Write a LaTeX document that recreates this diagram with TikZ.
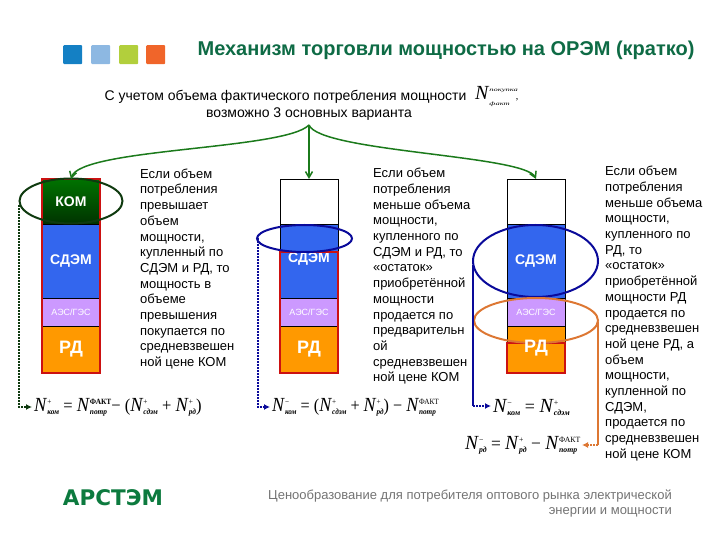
\documentclass[tikz,border=0pt]{standalone}
\usepackage{fontspec}
\setmainfont{Liberation Sans}
\newfontfamily\ser{Liberation Serif}
\newfontfamily\logofont{DejaVu Sans}
\usetikzlibrary{arrows.meta,shapes.geometric}
\definecolor{titlegreen}{HTML}{0E6B45}
\definecolor{arrowgreen}{HTML}{1B7A1B}
\definecolor{barblue}{HTML}{3366EE}
\definecolor{barlilac}{HTML}{CC99FF}
\definecolor{barorange}{HTML}{FF9900}
\definecolor{barred}{HTML}{CC1111}
\definecolor{darkblue}{HTML}{0A0A9A}
\definecolor{ovalorange}{HTML}{DD7733}
\definecolor{ovalgreen}{HTML}{0F3A0F}
\newcommand\FN[2]{{\fontsize{20}{20}\selectfont\textit{N}}\rlap{\raisebox{7pt}{\fontsize{8}{8}\selectfont #1}}\raisebox{-3pt}{\fontsize{8}{8}\selectfont\textit{\textbf{#2}}}}
\tikzset{
 seg/.style={draw=black,line width=.7pt,minimum width=58pt,inner sep=0pt,outer sep=0pt,anchor=north,text=white,font=\bfseries\fontsize{14}{14}\selectfont},
 small/.style={font=\fontsize{9}{9}\selectfont},
 big/.style={font=\bfseries\fontsize{18}{18}\selectfont},
 outline/.style={draw=barred,line width=2.4pt},
 oval/.style={ellipse,draw,line width=2pt,inner sep=0pt,outer sep=0pt,fill=none},
 body/.style={anchor=north west,inner sep=0pt,align=left,font=\fontsize{13}{15.7}\selectfont,text=black},
 head/.style={anchor=center,inner sep=0pt,font=\fontsize{14}{16}\selectfont},
 fm/.style={inner sep=0pt,anchor=west,font=\ser\fontsize{18}{18}\selectfont},
 garrow/.style={draw=arrowgreen,line width=1.5pt,-{Straight Barb[length=6pt,width=7pt]}},
 dot/.style={line width=2pt},
 dottip/.style={-{Latex[length=6pt,width=6pt]},shorten >=2pt},
}
\begin{document}
\begin{tikzpicture}[x=1pt,y=-1pt]
\useasboundingbox (0,0) rectangle (720,540);
% squares
\foreach \n/\x/\c in {a/63/1480C4,b/91/8DB8E2,c/119/B2CF3C,d/146/F0652A}{
  \definecolor{sq}{HTML}{\c}
  \node[fill=sq,minimum size=19pt,inner sep=0pt,anchor=north west,rounded corners=1pt] (sq\n) at (\x,45) {};
}
\node[anchor=center,inner sep=0pt,text=titlegreen,font=\bfseries\fontsize{20}{20}\selectfont] (title) at (446,50) {Механизм торговли мощностью на ОРЭМ (кратко)};
\node[head] (h1) at (285.5,97) {С учетом объема фактического потребления мощности};
\node[head] (h2) at (309,114) {возможно 3 основных варианта};
\node[fm,anchor=west] (hN) at (475,96) {{\fontsize{20}{20}\selectfont\textit{N}}\rlap{\raisebox{8pt}{\scalebox{1.7}[1]{\fontsize{5}{5}\selectfont\textit{покупка}}}}\raisebox{-6pt}{\scalebox{1.7}[1]{\fontsize{5}{5}\selectfont\textit{факт}}}\hspace{6pt}{\fontsize{10}{10}\selectfont,}};
\coordinate (fork) at (309,125);
% bar 1
\node[seg,minimum height=45pt,top color=green!45!black,bottom color=black!75!green!80!black,draw=none] (k1) at (71,179) {\raisebox{-1.5pt}{КОМ}};
\node[seg,minimum height=74pt,fill=barblue] (s1) at (71,224) {СДЭМ};
\node[seg,minimum height=28pt,fill=barlilac,small] (a1) at (71,298) {АЭС/ГЭС};
\node[seg,minimum height=47pt,fill=barorange,big] (r1) at (71,326) {\raisebox{3pt}{РД}};
\draw[outline] (k1.north west) rectangle (r1.south east);
% bar 2
\node[seg,minimum height=45pt,fill=white] (k2) at (309,179) {};
\node[seg,minimum height=74pt,fill=barblue] (s2) at (309,224) {};
\node[inner sep=0pt,text=white,font=\bfseries\fontsize{14}{14}\selectfont] (s2t) at (309,259) {СДЭМ};
\node[seg,minimum height=28pt,fill=barlilac,small] (a2) at (309,298) {АЭС/ГЭС};
\node[seg,minimum height=47pt,fill=barorange,big] (r2) at (309,326) {\raisebox{3pt}{РД}};
\draw[outline] (280,252) rectangle (r2.south east);
% bar 3
\node[seg,minimum height=45pt,fill=white] (k3) at (536,179) {};
\node[seg,minimum height=74pt,fill=barblue] (s3) at (536,224) {СДЭМ};
\node[seg,minimum height=28pt,fill=barlilac,small] (a3) at (536,298) {АЭС/ГЭС};
\node[seg,minimum height=47pt,fill=barorange] (r3) at (536,326) {};
\draw[outline] (507,343) rectangle (r3.south east);
% ovals
\node[oval,draw=ovalgreen,minimum width=103pt,minimum height=45pt] (e1) at (71,201) {};
\node[oval,draw=darkblue,minimum width=95pt,minimum height=27pt] (e2) at (304.5,238.5) {};
\node[oval,draw=darkblue,minimum width=125pt,minimum height=72pt] (e3) at (535.5,261) {};
\node[oval,draw=ovalorange,minimum width=124pt,minimum height=45pt] (e4) at (536,320.5) {};
\node[inner sep=0pt,text=white,font=\bfseries\fontsize{18}{18}\selectfont] (r3t) at (536,348) {РД};
% arrows from the fork
\draw[garrow] (fork) .. controls (285,150) and (80,148) .. (k1.north);
\draw[garrow] (fork) -- (k2.north);
\draw[garrow] (fork) .. controls (320,152) and (525,155) .. (k3.north);
% formulas
\node[fm] (f1) at (34,407) {\scalebox{.92}[1]{\FN{+}{ком} = \FN{\textbf{ФАКТ}}{потр} − (\FN{+}{сдэм} + \FN{+}{рд})}};
\node[fm] (f2) at (272,407) {\scalebox{.9}[1]{\FN{−}{ком} = (\FN{+}{сдэм} + \FN{+}{рд}) − \FN{ФАКТ}{потр}}};
\node[fm] (f3) at (493,407) {\FN{−}{ком} = \FN{+}{сдэм}};
\node[fm] (f4) at (465,445) {\scalebox{.97}[1]{\FN{−}{рд} = \FN{+}{рд} − \FN{ФАКТ}{потр}}};
% connectors
\coordinate (e1d) at (19,205);
\coordinate (e2d) at (257.5,238);
\coordinate (e3d) at (473,265);
\coordinate (e4d) at (598,322);
\coordinate (b3) at (473,406);
\coordinate (b4) at (598,445);
\coordinate (t4) at (582,445);
\draw[ovalgreen,dot,densely dotted,dottip] (e1d) |- (f1.west);
\draw[darkblue,dot,densely dotted,dottip] (e2d) |- (f2.west);
\draw[darkblue,dot] (e3d) -- (b3);
\draw[darkblue,dot,densely dotted,dottip] (b3) -- (f3.west |- b3);
\draw[ovalorange,dot] (e4d) -- (b4);
\draw[ovalorange,dot,densely dotted,-{Latex[length=6pt,width=6pt]}] (b4) -- (t4);
% body text
\node[body] (t1) at (140,168.5) {Если объем\\потребления\\превышает\\объем\\мощности,\\купленный по\\СДЭМ и РД, то\\мощность в\\объеме\\превышения\\покупается по\\средневзвешен\\ной цене КОМ};
\node[body] (t2) at (373,168) {Если объем\\потребления\\меньше объема\\мощности,\\купленного по\\СДЭМ и РД, то\\«остаток»\\приобретённой\\мощности\\продается по\\предварительн\\ой\\средневзвешен\\ной цене КОМ};
\node[body] (t3) at (605,166) {Если объем\\потребления\\меньше объема\\мощности,\\купленного по\\РД, то\\«остаток»\\приобретённой\\мощности РД\\продается по\\средневзвешен\\ной цене РД, а\\объем\\мощности,\\купленной по\\СДЭМ,\\продается по\\средневзвешен\\ной цене КОМ};
% logo and footer
\node[anchor=center,inner sep=0pt,text=titlegreen!90!green,font=\logofont\bfseries\fontsize{21.5}{21.5}\selectfont] (logo) at (113,497.5) {АРСТЭМ};
\node[anchor=north east,inner sep=0pt,align=right,text=black!55,font=\fontsize{13}{15}\selectfont] (foot) at (672,489.5) {Ценообразование для потребителя оптового рынка электрической\\энергии и мощности};
\end{tikzpicture}
\end{document}
